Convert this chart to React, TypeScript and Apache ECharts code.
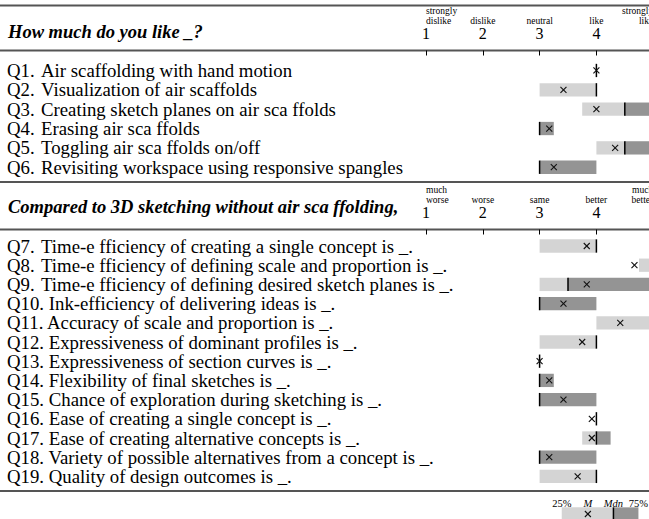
import React, { useEffect, useRef } from 'react';
import * as echarts from 'echarts';

const SCALE_TICKS = [1, 2, 3, 4, 5];
const LIKE_WORDS = ['strongly\ndislike', 'dislike', 'neutral', 'like', 'strongly\nlike'];
const COMPARE_WORDS = ['much\nworse', 'worse', 'same', 'better', 'much\nbetter'];

const LIKE_IDS = ['Q1.', 'Q2.', 'Q3.', 'Q4.', 'Q5.', 'Q6.'];
const LIKE_TEXTS = [
  'Air scaffolding with hand motion',
  'Visualization of air scaffolds',
  'Creating sketch planes on air sca ffolds',
  'Erasing air sca ffolds',
  'Toggling air sca ffolds on/off',
  'Revisiting workspace using responsive spangles',
];
const LIKE_Q1 = [4, 3, 3.75, 3, 4, 3];
const LIKE_MEAN = [4, 3.42, 4, 3.17, 4.33, 3.25];
const LIKE_MEDIAN = [4, 4, 4.5, 3, 4.5, 3];
const LIKE_Q3 = [4, 4, 5, 3.25, 5, 4];

const CMP_IDS = ['Q7.', 'Q8.', 'Q9.', 'Q10.', 'Q11.', 'Q12.', 'Q13.', 'Q14.', 'Q15.', 'Q16.', 'Q17.', 'Q18.', 'Q19.'];
const CMP_TEXTS = [
  'Time-e fficiency of creating a single concept is _.',
  'Time-e fficiency of defining scale and proportion is _.',
  'Time-e fficiency of defining desired sketch planes is _.',
  'Ink-efficiency of delivering ideas is _.',
  'Accuracy of scale and proportion is _.',
  'Expressiveness of dominant profiles is _.',
  'Expressiveness of section curves is _.',
  'Flexibility of final sketches is _.',
  'Chance of exploration during sketching is _.',
  'Ease of creating a single concept is _.',
  'Ease of creating alternative concepts is _.',
  'Variety of possible alternatives from a concept is _.',
  'Quality of design outcomes is _.',
];
const CMP_Q1 = [3, 4.75, 3, 3, 4, 3, 3, 3, 3, 4, 3.75, 3, 3];
const CMP_MEAN = [3.83, 4.67, 3.83, 3.42, 4.42, 3.75, 3, 3.17, 3.42, 3.92, 3.92, 3.17, 3.67];
const CMP_MEDIAN = [4, 5, 3.5, 3, 5, 4, 3, 3, 3, 4, 4, 3, 4];
const CMP_Q3 = [4, 5, 5, 4, 5, 4, 3, 3.25, 4, 4, 4.25, 4, 4];

const LEGEND_LABELS = ['25%', 'M', 'Mdn', '75%'];
const LEGEND_VALUES = [3.39, 3.85, 4.3, 4.74];

const FONT = 'Liberation Serif';
const LIGHT = '#d4d4d4';
const DARK = '#949494';
const BAR_H = 13.3;
const UNIT = 56.8;
const LABEL_SIZE = 18.8;

function boxData(q1: number[], mean: number[], med: number[], q3: number[]) {
  return q1.map((v, i) => [i, v, mean[i], med[i], q3[i]]);
}

function drawBox(api: any, withLabels: boolean) {
  const cat = api.value(0);
  const q1 = api.value(1);
  const mean = api.value(2);
  const med = api.value(3);
  const q3 = api.value(4);
  const a = api.coord([q1, cat]);
  const m = api.coord([med, cat]);
  const b = api.coord([q3, cat]);
  const mu = api.coord([mean, cat]);
  const cy = a[1];
  const children: any[] = [];
  if (m[0] - a[0] > 0.1) {
    children.push({ type: 'rect', shape: { x: a[0], y: cy - BAR_H / 2, width: m[0] - a[0], height: BAR_H }, style: { fill: LIGHT } });
  }
  if (b[0] - m[0] > 0.1) {
    children.push({ type: 'rect', shape: { x: m[0], y: cy - BAR_H / 2, width: b[0] - m[0], height: BAR_H }, style: { fill: DARK } });
  }
  children.push({ type: 'line', shape: { x1: m[0], y1: cy - BAR_H / 2, x2: m[0], y2: cy + BAR_H / 2 }, style: { stroke: '#000', lineWidth: 1.5 } });
  const s = 3;
  children.push({ type: 'line', shape: { x1: mu[0] - s, y1: cy - s, x2: mu[0] + s, y2: cy + s }, style: { stroke: '#111', lineWidth: 1.1 } });
  children.push({ type: 'line', shape: { x1: mu[0] - s, y1: cy + s, x2: mu[0] + s, y2: cy - s }, style: { stroke: '#111', lineWidth: 1.1 } });
  if (withLabels) {
    const xs = [a[0], mu[0], m[0], b[0]];
    LEGEND_LABELS.forEach((t, i) => {
      children.push({
        type: 'text',
        style: {
          text: t, x: xs[i], y: cy - 11, align: 'center', verticalAlign: 'middle',
          fontFamily: FONT, fontSize: 10.5, fontStyle: i === 1 || i === 2 ? 'italic' : 'normal', fill: '#000',
        },
      });
    });
  }
  return { type: 'group', children };
}

function numeralAxis(gridIndex: number, offset: number) {
  return {
    type: 'value', gridIndex, min: 1, max: 5, interval: 1, position: 'top', offset,
    axisLine: { show: false }, splitLine: { show: false },
    axisTick: { show: true, inside: true, length: 5, lineStyle: { color: '#000', width: 1 } },
    axisLabel: { margin: 10.5, fontSize: 16, lineHeight: 12.5, fontFamily: FONT, color: '#000', showMinLabel: true, showMaxLabel: true },
  };
}

function wordAxis(gridIndex: number, offset: number, words: string[]) {
  return {
    type: 'value', gridIndex, min: 1, max: 5, interval: 1, position: 'top', offset,
    axisLine: { show: false }, splitLine: { show: false }, axisTick: { show: false },
    axisLabel: {
      margin: 25, fontSize: 9.5, lineHeight: 9.5, fontFamily: FONT, color: '#000',
      showMinLabel: true, showMaxLabel: true, alignMinLabel: 'left', alignMaxLabel: 'right',
      formatter: (v: number) => words[SCALE_TICKS.indexOf(v)] ?? '',
    },
  };
}

// Two left category axes per section: question numbers and question texts
function idAxis(gridIndex: number, ids: string[], texts: string[]) {
  return {
    type: 'category', gridIndex, data: ids, inverse: true, position: 'left',
    axisLine: { show: false }, axisTick: { show: false }, splitLine: { show: false },
    axisLabel: {
      interval: 0, align: 'left', margin: 419, fontFamily: FONT, fontSize: LABEL_SIZE, color: '#000',
      formatter: (v: string, i: number) => (ids[i].length > 3 ? `${ids[i]} ${texts[i]}` : ids[i]),
    },
  };
}

function textAxis(gridIndex: number, ids: string[], texts: string[]) {
  return {
    type: 'category', gridIndex, data: ids, inverse: true, position: 'left',
    axisLine: { show: false }, axisTick: { show: false }, splitLine: { show: false },
    axisLabel: {
      interval: 0, align: 'left', margin: 385, fontFamily: FONT, fontSize: LABEL_SIZE, color: '#000',
      formatter: (v: string, i: number) => (ids[i].length > 3 ? '' : texts[i]),
    },
  };
}

const G1_TOP = 60.8, G1_H = 116.1;
const G2_TOP = 236.4, G2_H = 249.6;

export default function App() {
  const ref = useRef<HTMLDivElement>(null);
  useEffect(() => {
    if (!ref.current) return;
    const chart = echarts.init(ref.current, null, { renderer: 'svg' });
    const sepLines = [5.5, 50.5, 182, 229.5, 491];
    const titleStyle = { fontFamily: FONT, fontSize: 18.5, fontWeight: 'bold', fontStyle: 'italic', color: '#000' };
    const gridBase = { left: 426, width: 4 * UNIT, outerBoundsMode: 'none', containLabel: false };
    chart.setOption({
      animation: false,
      backgroundColor: '#fff',
      textStyle: { fontFamily: FONT },
      title: [
        { text: 'How much do you like _?', left: 8, top: 22.5, padding: 0, textStyle: titleStyle },
        { text: 'Compared to 3D sketching without air sca ffolding,', left: 8, top: 197.5, padding: 0, textStyle: titleStyle },
      ],
      grid: [
        { ...gridBase, top: G1_TOP, height: G1_H },
        { ...gridBase, top: G2_TOP, height: G2_H },
        { ...gridBase, top: 505, height: 18 },
      ],
      xAxis: [
        numeralAxis(0, G1_TOP - 50.5),
        wordAxis(0, G1_TOP - 50.5, LIKE_WORDS),
        numeralAxis(1, G2_TOP - 229.5),
        wordAxis(1, G2_TOP - 229.5, COMPARE_WORDS),
        { type: 'value', gridIndex: 2, min: 1, max: 5, show: false },
      ],
      yAxis: [
        idAxis(0, LIKE_IDS, LIKE_TEXTS),
        textAxis(0, LIKE_IDS, LIKE_TEXTS),
        idAxis(1, CMP_IDS, CMP_TEXTS),
        textAxis(1, CMP_IDS, CMP_TEXTS),
        { type: 'category', gridIndex: 2, data: ['legend'], show: false },
      ],
      graphic: sepLines.map((y) => ({
        type: 'line', shape: { x1: 0, y1: y, x2: 649, y2: y }, style: { stroke: '#555', lineWidth: 1.8 }, silent: true,
      })),
      series: [
        {
          type: 'custom', xAxisIndex: 0, yAxisIndex: 0, clip: false,
          encode: { x: [1, 2, 3, 4], y: 0 },
          data: boxData(LIKE_Q1, LIKE_MEAN, LIKE_MEDIAN, LIKE_Q3),
          renderItem: (_p: any, api: any) => drawBox(api, false),
        },
        {
          type: 'custom', xAxisIndex: 2, yAxisIndex: 2, clip: false,
          encode: { x: [1, 2, 3, 4], y: 0 },
          data: boxData(CMP_Q1, CMP_MEAN, CMP_MEDIAN, CMP_Q3),
          renderItem: (_p: any, api: any) => drawBox(api, false),
        },
        {
          type: 'custom', xAxisIndex: 4, yAxisIndex: 4, clip: false,
          encode: { x: [1, 2, 3, 4], y: 0 },
          data: [[0, LEGEND_VALUES[0], LEGEND_VALUES[1], LEGEND_VALUES[2], LEGEND_VALUES[3]]],
          renderItem: (_p: any, api: any) => drawBox(api, true),
        },
      ],
    });
    return () => chart.dispose();
  }, []);
  return <div ref={ref} style={{ position: 'absolute', left: 0, top: 0, width: 649, height: 519 }} />;
}
